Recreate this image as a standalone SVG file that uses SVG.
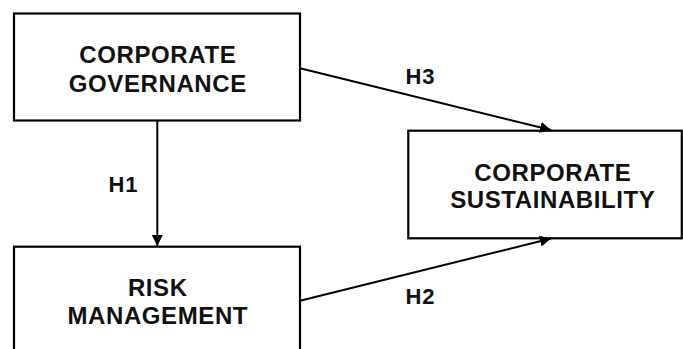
<svg xmlns="http://www.w3.org/2000/svg" width="683" height="349" viewBox="0 0 683 349">
<style>
.box{fill:#fff;stroke:#000;stroke-width:2.2}
.t{font-family:"Liberation Sans",Arial,sans-serif;font-weight:bold;font-size:24px;letter-spacing:0.6px;fill:#111;text-anchor:middle}
.l{font-family:"Liberation Sans",Arial,sans-serif;font-weight:bold;font-size:22px;letter-spacing:1px;fill:#111;text-anchor:middle}
.c{stroke:#000;stroke-width:2;fill:none}
</style>
<defs>
<marker id="ah" markerUnits="userSpaceOnUse" markerWidth="12" markerHeight="12" viewBox="0 0 12 12" refX="11" refY="6" orient="auto">
<path d="M0,0.5 L11,6 L0,11.5 z" fill="#000"/>
</marker>
</defs>
<rect width="683" height="349" fill="#fff"/>
<g id="governance">
<rect class="box" x="14" y="13.5" width="286" height="107"/>
<text class="t" x="157.8" y="63.3">CORPORATE</text>
<text class="t" x="157.8" y="91.7">GOVERNANCE</text>
</g>
<g id="risk">
<rect class="box" x="14" y="246.7" width="286" height="110"/>
<text class="t" x="157.8" y="296">RISK</text>
<text class="t" x="157.8" y="324">MANAGEMENT</text>
</g>
<g id="sustainability">
<rect class="box" x="408.3" y="130.7" width="273.5" height="107.6"/>
<text class="t" x="552.8" y="180.7">CORPORATE</text>
<text class="t" x="552.8" y="208.3">SUSTAINABILITY</text>
</g>
<g id="connectors">
<line class="c" x1="157.3" y1="121" x2="157.3" y2="246" marker-end="url(#ah)"/>
<line class="c" x1="300" y1="68.3" x2="551" y2="130" marker-end="url(#ah)"/>
<line class="c" x1="300" y1="300.7" x2="551" y2="238.5" marker-end="url(#ah)"/>
</g>
<g id="labels">
<text class="l" x="123.5" y="191.7">H1</text>
<text class="l" x="420.5" y="84">H3</text>
<text class="l" x="420.5" y="304">H2</text>
</g>
</svg>
